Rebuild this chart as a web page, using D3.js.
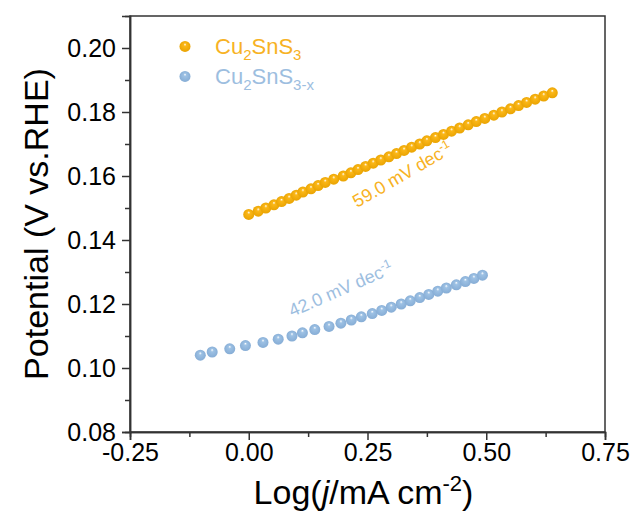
<!DOCTYPE html>
<html><head><meta charset="utf-8">
<script src="https://cdn.jsdelivr.net/npm/d3@7"></script>
<style>
html,body{margin:0;padding:0;background:#fff;}
text{font-family:"Liberation Sans",Arial,sans-serif;}
</style></head>
<body><svg id="chart" width="630" height="516"></svg>
<script>
const seriesNames = ["Cu2SnS3", "Cu2SnS3-x"];
const slopeLabels = ["59.0 mV dec", "42.0 mV dec"];
const xTicks = [-0.25, 0.00, 0.25, 0.50, 0.75];
const yTicks = [0.08, 0.10, 0.12, 0.14, 0.16, 0.18, 0.20];
const orangeX = [0.000,0.020,0.036,0.053,0.069,0.085,0.100,0.114,0.131,0.146,0.161,0.179,0.199,0.215,0.230,0.246,0.262,0.278,0.295,0.311,0.327,0.343,0.360,0.375,0.393,0.410,0.427,0.444,0.462,0.479,0.497,0.516,0.533,0.551,0.568,0.585,0.603,0.621,0.639];
const orangeY = [0.148,0.149,0.150,0.151,0.152,0.153,0.154,0.155,0.156,0.157,0.158,0.159,0.160,0.161,0.162,0.163,0.164,0.165,0.166,0.167,0.168,0.169,0.170,0.171,0.172,0.173,0.174,0.175,0.176,0.177,0.178,0.179,0.180,0.181,0.182,0.183,0.184,0.185,0.186];
const blueX = [-0.102,-0.077,-0.040,-0.007,0.030,0.062,0.091,0.113,0.139,0.169,0.194,0.216,0.237,0.260,0.280,0.300,0.321,0.340,0.360,0.379,0.398,0.416,0.437,0.456,0.474,0.492];
const blueY = [0.104,0.105,0.106,0.107,0.108,0.109,0.110,0.111,0.112,0.113,0.114,0.115,0.116,0.117,0.118,0.119,0.120,0.121,0.122,0.123,0.124,0.125,0.126,0.127,0.128,0.129];

const W = 630, H = 516;
const m = {left:130, right:25, top:16, bottom:84};
const iw = W - m.left - m.right, ih = H - m.top - m.bottom;
const svg = d3.select("#chart");
const x = d3.scaleLinear().domain([-0.25, 0.75]).range([0, iw]);
const y = d3.scaleLinear().domain([0.08, 0.21]).range([ih, 0]);
const fmt = v => d3.format(".2f")(v).replace("\u2212","-");

const colors = {orange:{base:"#FBB718", dark:"#E8A200", text:"#F7B224"}, blue:{base:"#9DC1E4", dark:"#84ABD4", text:"#9DBEDF"}};
const defs = svg.append("defs");
Object.entries(colors).forEach(([k,c])=>{
  const g = defs.append("radialGradient").attr("id","g_"+k).attr("cx","50%").attr("cy","50%").attr("r","55%").attr("fx","50%").attr("fy","30%");
  g.append("stop").attr("offset","0%").attr("stop-color","#ffffff");
  g.append("stop").attr("offset","25%").attr("stop-color",c.base);
  g.append("stop").attr("offset","100%").attr("stop-color",c.dark);
});

const g = svg.append("g").attr("transform",`translate(${m.left},${m.top})`);
const axisColor = "#333";

g.append("rect").attr("x",0).attr("y",0).attr("width",iw).attr("height",ih)
  .attr("fill","none").attr("stroke",axisColor).attr("stroke-width",1.5);

const xa = g.append("g").attr("transform",`translate(0,${ih})`)
  .call(d3.axisBottom(x).tickValues(xTicks).tickFormat(fmt).tickSize(8).tickPadding(3));
const xMinor = g.append("g").attr("transform",`translate(0,${ih})`)
  .call(d3.axisBottom(x).tickValues([-0.125,0.125,0.375,0.625]).tickFormat("").tickSize(5));
const ya = g.append("g").call(d3.axisLeft(y).tickValues(yTicks).tickFormat(fmt).tickSize(8).tickPadding(6));
const yMinor = g.append("g").call(d3.axisLeft(y).tickValues([0.09,0.11,0.13,0.15,0.17,0.19]).tickFormat("").tickSize(5));
[xa,xMinor,ya,yMinor].forEach(a=>{
  a.select(".domain").attr("stroke",axisColor).attr("stroke-width",1.5);
  a.selectAll(".tick line").attr("stroke",axisColor).attr("stroke-width",1.5);
  a.selectAll(".tick text").attr("fill","#000").style("font-size","25px").style("font-family","Liberation Sans, Arial, sans-serif");
});

const r = 5.5;
function drawSeries(xs, ys, key){
  g.append("g").selectAll("circle").data(xs.map((v,i)=>[v,ys[i]])).join("circle")
    .attr("cx",d=>x(d[0])).attr("cy",d=>y(d[1])).attr("r",r)
    .attr("fill",`url(#g_${key})`);
}
drawSeries(orangeX, orangeY, "orange");
drawSeries(blueX, blueY, "blue");

function slopeText(px, py, ang, label, color){
  const t = g.append("text").attr("transform",`translate(${x(px)},${y(py)}) rotate(${ang})`)
    .attr("fill",color).style("font-size","18px");
  t.append("tspan").text(label);
  t.append("tspan").attr("dy",-7).style("font-size","12px").text("-1");
}
slopeText(0.228, 0.1500, -30, slopeLabels[0], colors.orange.text);
slopeText(0.091, 0.1159, -23.5, slopeLabels[1], colors.blue.text);

const leg = [{key:"orange", sub:"3", y:0.2005},{key:"blue", sub:"3-x", y:0.1911}];
leg.forEach((L,i)=>{
  const ly = y(L.y);
  g.append("circle").attr("cx",55).attr("cy",ly).attr("r",r).attr("fill",`url(#g_${L.key})`);
  const t = g.append("text").attr("x",85).attr("y",ly+8).attr("fill",colors[L.key].text).style("font-size","22px");
  t.append("tspan").text("Cu");
  t.append("tspan").attr("dy",6).style("font-size","15px").text("2");
  t.append("tspan").attr("dy",-6).text("SnS");
  t.append("tspan").attr("dy",6).style("font-size","15px").text(L.sub);
});

const xt = svg.append("text").attr("x", m.left + iw/2 - 4).attr("y", 504).attr("text-anchor","middle")
  .attr("fill","#000").style("font-size","34px");
xt.append("tspan").text("Log(");
xt.append("tspan").style("font-style","italic").text("j");
xt.append("tspan").text("/mA cm");
xt.append("tspan").attr("dy",-13).style("font-size","22px").text("-2");
xt.append("tspan").attr("dy",13).text(")");

svg.append("text").attr("transform",`translate(48,${m.top+ih/2}) rotate(-90)`).attr("text-anchor","middle")
  .attr("fill","#000").style("font-size","34px").text("Potential (V vs.RHE)");
</script></body></html>
